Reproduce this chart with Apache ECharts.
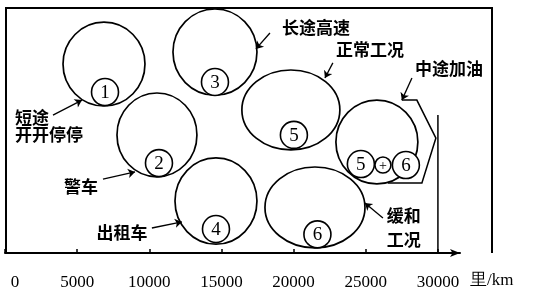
<!DOCTYPE html>
<html><head><meta charset="utf-8">
<script src="https://cdn.jsdelivr.net/npm/echarts@6/dist/echarts.min.js"></script>
<style>html,body{margin:0;padding:0;background:#fff}#c{width:553px;height:300px}</style>
</head><body><div id="c"></div>
<script>
// x axis: distance (km); y: relative vertical placement (0-100)
const tickValues = [0, 5000, 10000, 15000, 20000, 25000, 30000];
const axisUnit = '里/km';

// large circles (oil spots): centre x (km), centre y, x radius (km), y radius
const bigNames = ['1', '2', '3', '4', '5', '6', '5+6'];
const bigX  = [6860, 10530, 14550, 14620, 19810, 21480, 25770];
const bigY  = [77.1, 48.2, 82.0, 21.2, 58.4, 18.6, 45.3];
const bigRX = [2840, 2770, 2910, 2840, 3395, 3465, 2840];
const bigRY = [17.1, 17.1, 17.6, 17.6, 16.3, 16.5, 17.1];

// small numbered circles
const smallText = ['1', '2', '3', '4', '5', '6', '5', '+', '6'];
const smallX = [6930, 10670, 14550, 14620, 20020, 21650, 24660, 26190, 27780];
const smallY = [65.7, 36.7, 69.8, 9.8, 48.2, 7.6, 36.3, 35.9, 35.9];
const smallR = [935, 935, 935, 935, 935, 935, 935, 555, 935];

// condition labels
const labelText = ['短途\n开开停停', '警车', '长途高速', '出租车', '正常工况', '中途加油', '缓和\n工况'];
const labelX = [693, 5265, 21550, 8105, 25290, 30760, 27640];
const labelY = [52.0, 27.3, 92.2, 8.2, 82.9, 75.1, 10.2];
const labelAlign = ['left', 'center', 'center', 'center', 'center', 'center', 'center'];
const labelLH = [17, 20, 20, 20, 20, 20, 24];

// arrows from labels to circles: [fromX, fromY, toX, toY]
const arrowFromX = [3325, 6790, 18360, 10180, 22720, 28200, 26190];
const arrowFromY = [56.3, 30.2, 89.8, 10.2, 77.6, 71.4, 14.3];
const arrowToX   = [5335, 9010, 17390, 12260, 22170, 27500, 24940];
const arrowToY   = [62.4, 33.1, 83.3, 12.7, 71.4, 62.4, 20.4];

// outline around the "中途加油" spot, and marker line at 30000
const hullX = [27500, 28540, 29860, 28890, 26530];
const hullY = [62.4, 62.4, 46.9, 28.6, 28.6];
const markX = [30000, 30000];
const markY = [0, 56.3];

const chart = echarts.init(document.getElementById('c'), null, {renderer: 'canvas'});

const bigData = bigNames.map((n, i) => [bigX[i], bigY[i], bigRX[i], bigRY[i]]);
const smallData = smallText.map((t, i) => [smallX[i], smallY[i], smallR[i], t]);
const labelData = labelText.map((t, i) => [labelX[i], labelY[i], t, labelAlign[i], labelLH[i]]);
const arrowData = arrowFromX.map((x, i) => ({coords: [[x, arrowFromY[i]], [arrowToX[i], arrowToY[i]]]}));
const plainLines = [
  {coords: hullX.map((x, i) => [x, hullY[i]])},
  {coords: markX.map((x, i) => [x, markY[i]])}
];

const option = {
  animation: false,
  backgroundColor: '#fff',
  grid: {left: 5, right: 93, top: 8, bottom: 47, containLabel: false},
  graphic: [{
    type: 'polyline', silent: true, z: 1,
    shape: {points: [[6, 253], [6, 8], [492, 8], [492, 253]]},
    style: {stroke: '#000', lineWidth: 2, fill: null}
  }],
  xAxis: {
    type: 'value', min: 0, max: 31530, interval: 5000,
    splitLine: {show: false},
    axisLine: {show: true, symbol: ['none', 'arrow'], symbolSize: [6, 10], lineStyle: {color: '#000', width: 2}},
    axisTick: {show: true, inside: true, length: 4, lineStyle: {color: '#000', width: 1.5}},
    axisLabel: {
      show: true, margin: 21, color: '#000', fontFamily: 'Liberation Serif', fontSize: 17,
      showMaxLabel: false,
      formatter: v => tickValues.indexOf(v) < 0 ? '' : (v === 0 ? '{z|0}' : String(v)),
      rich: {z: {padding: [0, 0, 0, 20], fontFamily: 'Liberation Serif', fontSize: 17, color: '#000'}}
    },
    name: '{u|' + axisUnit + '}', nameLocation: 'end', nameGap: 10,
    nameTextStyle: {
      rich: {u: {color: '#000', fontFamily: 'Liberation Serif', fontSize: 17, padding: [56, 0, 0, 0]}}
    }
  },
  yAxis: {type: 'value', min: 0, max: 100, show: false},
  series: [
    {
      type: 'custom', clip: false, z: 2,
      data: bigData,
      renderItem: (params, api) => {
        const c = api.coord([api.value(0), api.value(1)]);
        const s = api.size([api.value(2), api.value(3)]);
        return {type: 'ellipse', shape: {cx: c[0], cy: c[1], rx: s[0], ry: s[1]},
          style: {fill: 'none', stroke: '#000', lineWidth: 1.7}};
      }
    },
    {
      type: 'custom', clip: false, z: 3,
      data: smallData,
      renderItem: (params, api) => {
        const c = api.coord([api.value(0), api.value(1)]);
        const r = api.size([api.value(2), 0])[0];
        const t = smallText[params.dataIndex];
        return {type: 'group', children: [
          {type: 'circle', shape: {cx: c[0], cy: c[1], r: r}, style: {fill: '#fff', stroke: '#000', lineWidth: 1.6}},
          {type: 'text', x: c[0], y: c[1] + 1, style: {text: t, fill: '#000',
            fontFamily: 'Liberation Serif', fontSize: t === '+' ? 14 : 19,
            align: 'center', verticalAlign: 'middle'}}
        ]};
      }
    },
    {
      type: 'custom', clip: false, z: 4,
      data: labelData,
      renderItem: (params, api) => {
        const i = params.dataIndex;
        const c = api.coord([api.value(0), api.value(1)]);
        return {type: 'text', x: c[0], y: c[1], style: {text: labelText[i], fill: '#000',
          fontFamily: 'Noto Sans CJK SC', fontWeight: 'bold', fontSize: 17,
          lineHeight: labelLH[i], align: labelAlign[i], verticalAlign: 'middle'}};
      }
    },
    {
      type: 'lines', coordinateSystem: 'cartesian2d', z: 4,
      symbol: ['none', 'arrow'], symbolSize: 7,
      lineStyle: {color: '#000', width: 1.3, opacity: 1},
      data: arrowData
    },
    {
      type: 'lines', coordinateSystem: 'cartesian2d', polyline: true, z: 2,
      symbol: 'none',
      lineStyle: {color: '#000', width: 1.5, opacity: 1},
      data: plainLines
    }
  ]
};
chart.setOption(option);
</script></body></html>
